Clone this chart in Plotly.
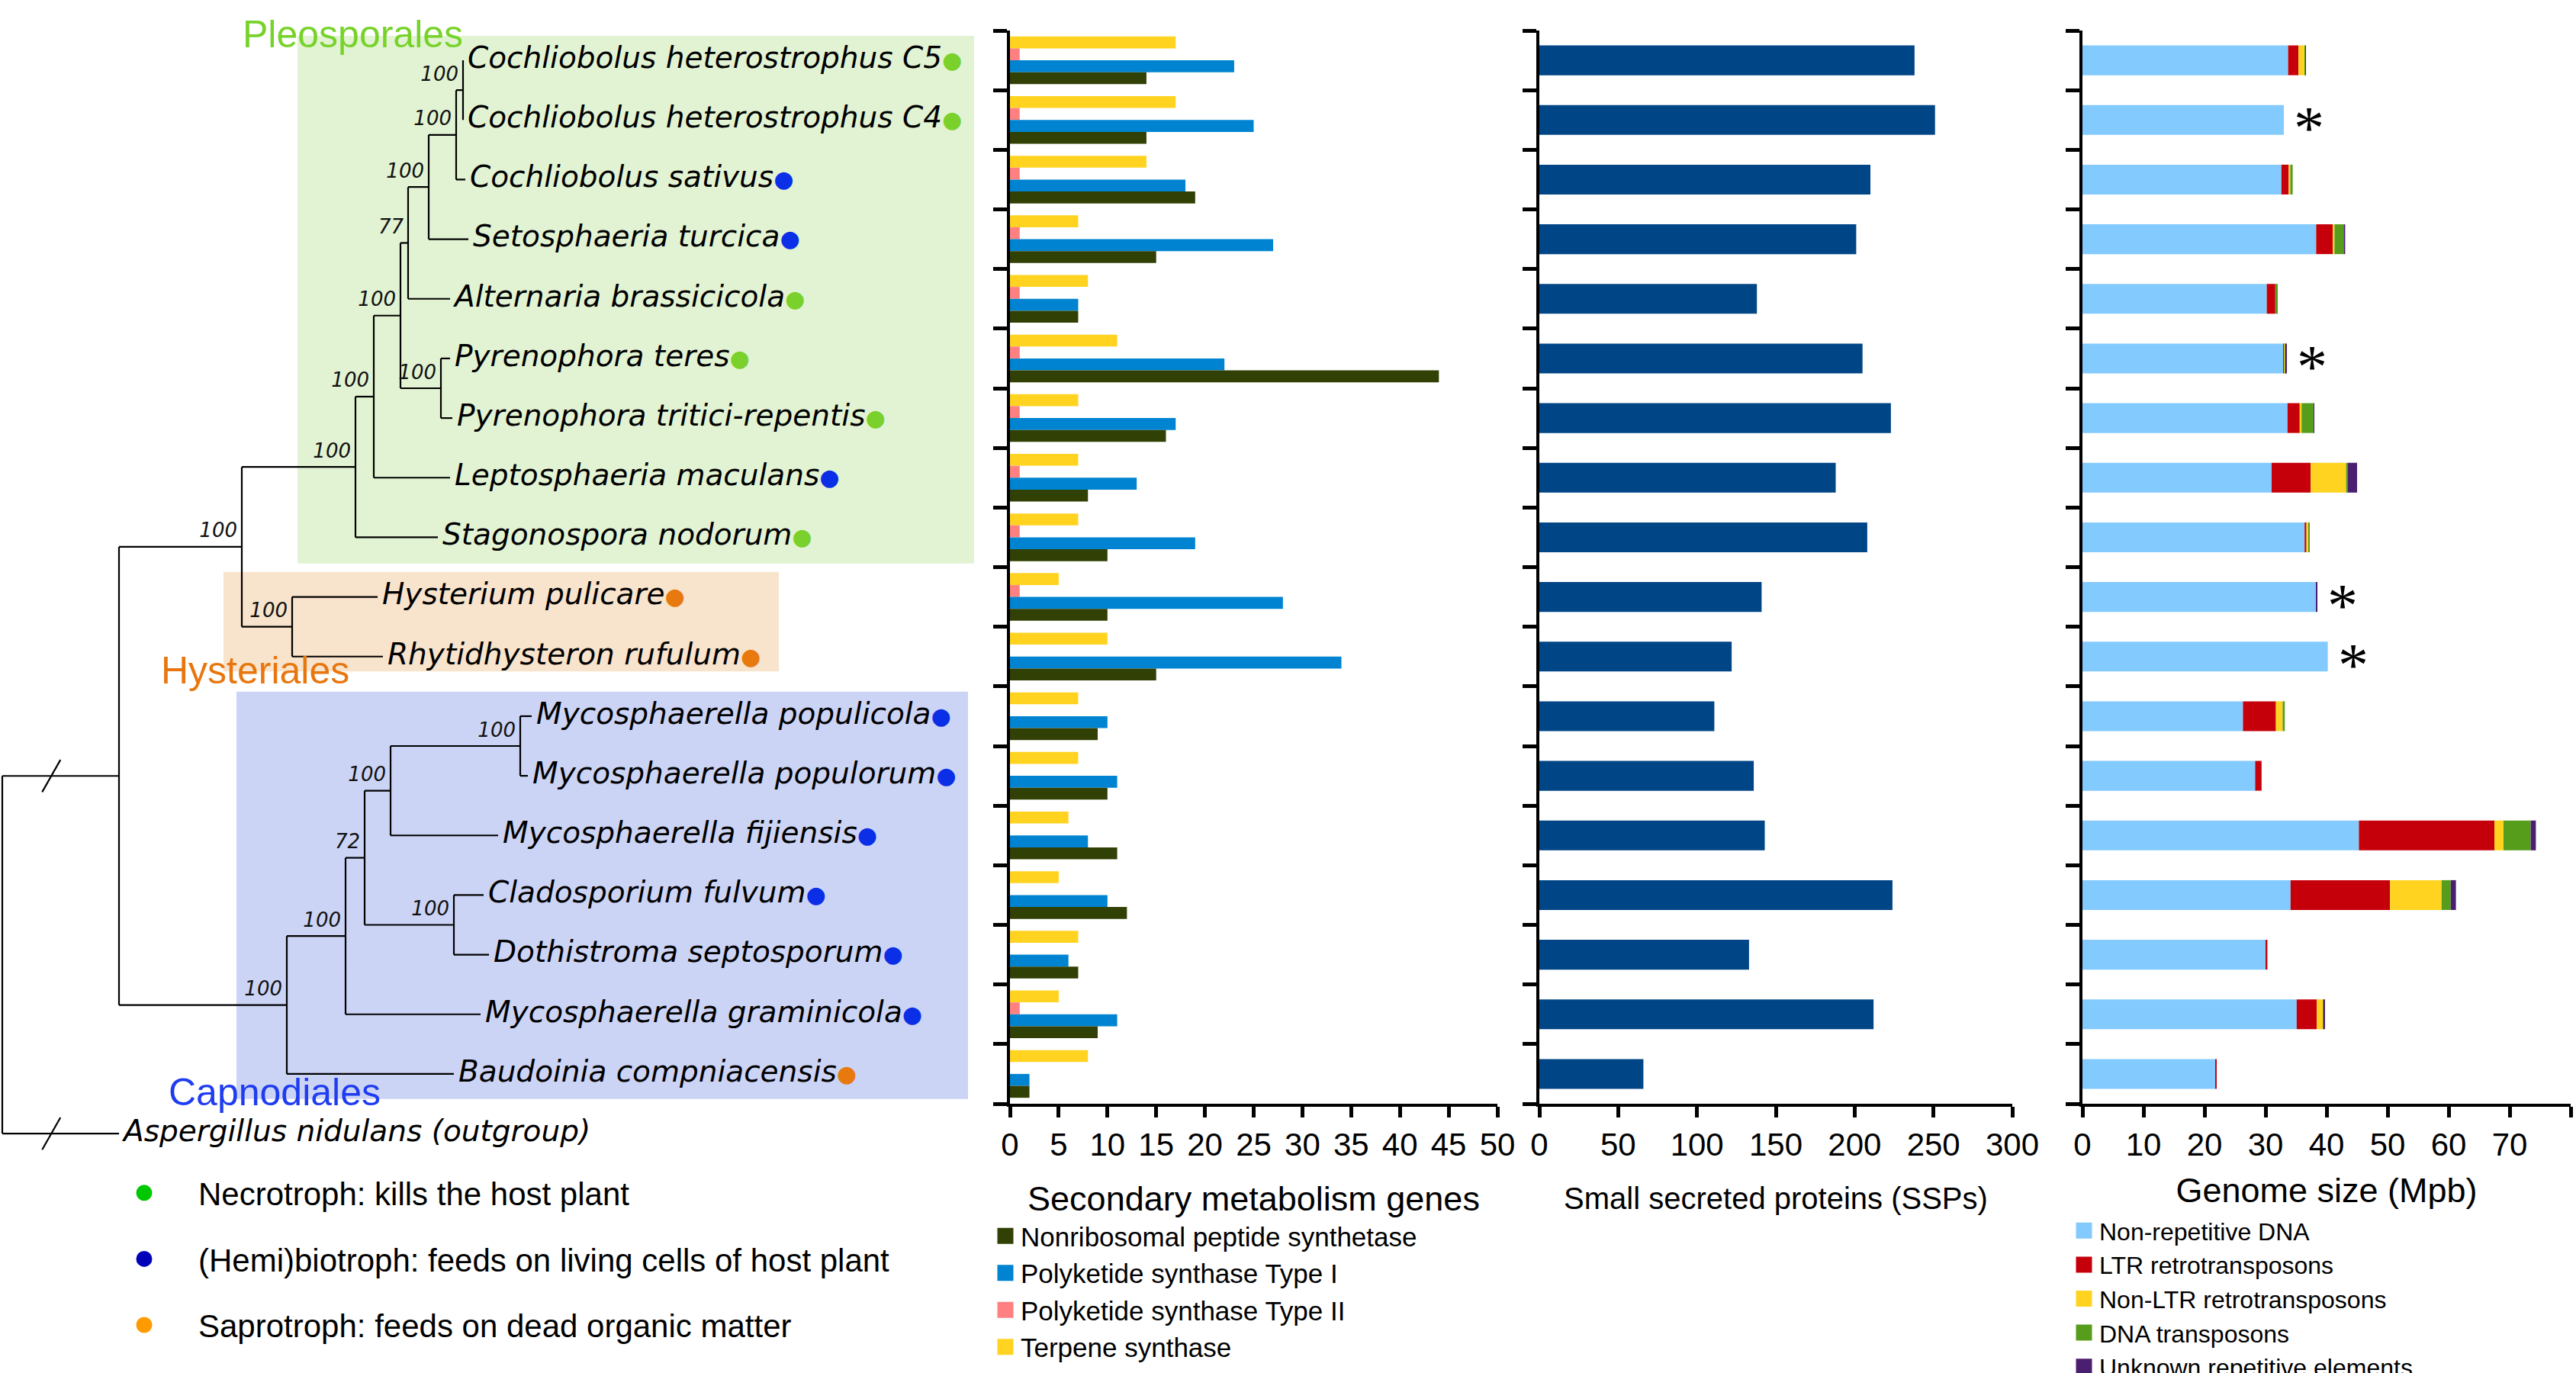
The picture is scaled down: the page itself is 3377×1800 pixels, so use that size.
import plotly.graph_objects as go

# ---------------- data ----------------
species = [
    "Cochliobolus heterostrophus C5", "Cochliobolus heterostrophus C4",
    "Cochliobolus sativus", "Setosphaeria turcica", "Alternaria brassicicola",
    "Pyrenophora teres", "Pyrenophora tritici-repentis", "Leptosphaeria maculans",
    "Stagonospora nodorum", "Hysterium pulicare", "Rhytidhysteron rufulum",
    "Mycosphaerella populicola", "Mycosphaerella populorum", "Mycosphaerella fijiensis",
    "Cladosporium fulvum", "Dothistroma septosporum", "Mycosphaerella graminicola",
    "Baudoinia compniacensis",
]
outgroup = "Aspergillus nidulans (outgroup)"
lifestyle = ["necro", "necro", "hemi", "hemi", "necro", "necro", "necro", "hemi", "necro",
             "sapro", "sapro", "hemi", "hemi", "hemi", "hemi", "hemi", "hemi", "sapro"]
lifestyle_names = {
    "necro": "Necrotroph: kills the host plant",
    "hemi": "(Hemi)biotroph: feeds on living cells of host plant",
    "sapro": "Saprotroph: feeds on dead organic matter",
}

# secondary metabolism genes
nrps = [14, 14, 19, 15, 7, 44, 16, 8, 10, 10, 15, 9, 10, 11, 12, 7, 9, 2]
pks1 = [23, 25, 18, 27, 7, 22, 17, 13, 19, 28, 34, 10, 11, 8, 10, 6, 11, 2]
pks2 = [1, 1, 1, 1, 1, 1, 1, 1, 1, 1, 0, 0, 0, 0, 0, 0, 1, 0]
terpene = [17, 17, 14, 7, 8, 11, 7, 7, 7, 5, 10, 7, 7, 6, 5, 7, 5, 8]

# small secreted proteins
ssp = [238, 251, 210, 201, 138, 205, 223, 188, 208, 141, 122, 111, 136, 143, 224, 133, 212, 66]

# genome size components (Mpb)
non_rep = [33.7, 33.0, 32.6, 38.3, 30.2, 32.9, 33.6, 31.0, 36.4, 38.3, 40.2, 26.3, 28.3, 45.3, 34.1, 30.0, 35.1, 21.8]
ltr = [1.7, 0, 1.2, 2.7, 1.4, 0.2, 2.0, 6.4, 0.3, 0, 0, 5.4, 1.05, 22.2, 16.3, 0.3, 3.3, 0.15]
non_ltr = [1.0, 0, 0.25, 0.3, 0, 0.05, 0.3, 5.8, 0.3, 0, 0, 1.1, 0, 1.5, 8.45, 0, 1.05, 0]
dna_tp = [0.1, 0, 0.4, 1.5, 0.4, 0.2, 2.0, 0.3, 0.2, 0, 0, 0.35, 0, 4.45, 1.5, 0, 0.1, 0]
unknown = [0.05, 0, 0, 0.25, 0, 0.1, 0.1, 1.5, 0, 0.2, 0, 0, 0, 0.85, 0.85, 0, 0.2, 0]
asterisk = [0, 1, 0, 0, 0, 1, 0, 0, 0, 1, 1, 0, 0, 0, 0, 0, 0, 0]

# phylogeny: leaf tip depths and clades (name, depth, children, support)
leaf_depth = [607, 607, 610, 614, 590, 590, 593, 590, 574, 495, 502, 697, 692, 653, 634, 641, 630, 595]
outgroup_depth = 156
clades = [
    ("A", 607, [0, 1], 100),
    ("B", 598, ["A", 2], 100),
    ("C", 562, ["B", 3], 100),
    ("D", 535, ["C", 4], 77),
    ("E", 578, [5, 6], 100),
    ("F", 525, ["D", "E"], 100),
    ("G", 490, ["F", 7], 100),
    ("H", 466, ["G", 8], 100),
    ("K", 383, [9, 10], 100),
    ("I", 317, ["H", "K"], 100),
    ("L", 682, [11, 12], 100),
    ("M", 512, ["L", 13], 100),
    ("N", 595, [14, 15], 100),
    ("O", 478, ["M", "N"], 72),
    ("P", 453, ["O", 16], 100),
    ("Q", 376, ["P", 17], 100),
    ("J", 156, ["I", "Q"], None),
    ("root", 3, ["J", "out"], None),
]

# ---------------- styles ----------------
SANS = "Liberation Sans, Arial, sans-serif"
TREE = "DejaVu Sans, sans-serif"
W, H = 3377, 1800
tree_dot = {"necro": "#7AD12B", "hemi": "#0B2FE6", "sapro": "#E8790F"}
legend_dot = {"necro": "#00C800", "hemi": "#0000B8", "sapro": "#FF9A00"}
sm_colors = {"nrps": "#314004", "pks1": "#0084D1", "pks2": "#FF8080", "terp": "#FFD320"}
gen_colors = ["#83CAFF", "#C5000B", "#FFD320", "#579D1C", "#4B1F6F"]

rows = list(range(len(species)))
fig = go.Figure()

# ---------------- tree ----------------
ypos = {i: float(i) for i in rows}
xpos = {i: leaf_depth[i] for i in rows}
ypos["out"] = float(len(species))
xpos["out"] = outgroup_depth
tx, ty = [], []
sx, sy, st = [], [], []
for name, depth, children, support in clades:
    ys = [ypos[c] for c in children]
    ypos[name] = (min(ys) + max(ys)) / 2
    xpos[name] = depth
    tx += [depth, depth, None]
    ty += [min(ys), max(ys), None]
    for c in children:
        tx += [depth, xpos[c], None]
        ty += [ypos[c], ypos[c], None]
    if support is not None:
        sx.append(depth)
        sy.append(ypos[name])
        st.append(f"<i>{support}</i>")

fig.add_trace(go.Scatter(x=tx, y=ty, mode="lines", line=dict(color="black", width=2.2),
                         xaxis="x", yaxis="y", showlegend=False, hoverinfo="skip"))

labels = [f"<i>{n}</i><span style='color:{tree_dot[l]};font-size:30px'>●</span>"
          for n, l in zip(species, lifestyle)]
fig.add_trace(go.Scatter(
    x=leaf_depth + [outgroup_depth], y=rows + [len(species)],
    text=labels + [f"<i>{outgroup}</i>"], mode="markers+text", textposition="middle right",
    marker=dict(size=8, opacity=0), textfont=dict(family=TREE, size=39, color="black"),
    cliponaxis=False, xaxis="x", yaxis="y", showlegend=False, hoverinfo="skip"))

fig.add_trace(go.Scatter(
    x=sx, y=sy, text=st, mode="markers+text", textposition="top left",
    marker=dict(size=8, opacity=0), textfont=dict(family=TREE, size=26, color="#111111"),
    cliponaxis=False, xaxis="x", yaxis="y", showlegend=False, hoverinfo="skip"))

shapes = []
# clade boxes
for x0, x1, y0, y1, col in [(390, 1277, -0.41, 8.44, "#E2F3D3"),
                            (293, 1021, 8.58, 10.25, "#F8E3CC"),
                            (310, 1269, 10.59, 17.42, "#CCD4F6")]:
    shapes.append(dict(type="rect", xref="x", yref="y", x0=x0, x1=x1, y0=y0, y1=y1,
                       fillcolor=col, line=dict(width=0), layer="below"))
# break marks on the root branches
root_depth = xpos["root"]
for c in ["J", "out"]:
    cx = root_depth + 0.42 * (xpos[c] - root_depth)
    shapes.append(dict(type="line", xref="x", yref="y", x0=cx + 12, x1=cx - 12,
                       y0=ypos[c] - 0.27, y1=ypos[c] + 0.27, line=dict(color="black", width=2.2)))

# ---------------- secondary metabolism ----------------
for vals, key, nm in [(terpene, "terp", "Terpene synthase"),
                      (pks2, "pks2", "Polyketide synthase Type II"),
                      (pks1, "pks1", "Polyketide synthase Type I"),
                      (nrps, "nrps", "Nonribosomal peptide synthetase")]:
    fig.add_trace(go.Bar(x=vals, y=rows, orientation="h", name=nm, xaxis="x2", yaxis="y2",
                         marker=dict(color=sm_colors[key], line=dict(width=0)),
                         showlegend=False, hoverinfo="x+name"))

# ---------------- SSPs ----------------
fig.add_trace(go.Bar(x=ssp, y=rows, orientation="h", xaxis="x3", yaxis="y3", width=0.5,
                     offset=-0.25, marker=dict(color="#004586", line=dict(width=0)),
                     showlegend=False, name="SSPs"))

# ---------------- genome size (stacked via base) ----------------
comps = [("Non-repetitive DNA", non_rep), ("LTR retrotransposons", ltr),
         ("Non-LTR retrotransposons", non_ltr), ("DNA transposons", dna_tp),
         ("Unknown repetitive elements", unknown)]
cum = [0.0] * len(species)
for (nm, vals), col in zip(comps, gen_colors):
    fig.add_trace(go.Bar(x=vals, base=list(cum), y=rows, orientation="h", xaxis="x4", yaxis="y4",
                         width=0.5, offset=-0.25, offsetgroup="genome",
                         marker=dict(color=col, line=dict(width=0)), showlegend=False, name=nm))
    cum = [a + b for a, b in zip(cum, vals)]

annotations = []
for i, flag in enumerate(asterisk):
    if flag:
        annotations.append(dict(x=cum[i], y=i, xref="x4", yref="y4", text="*", showarrow=False,
                                xanchor="left", xshift=11, yshift=-11,
                                font=dict(family="Liberation Serif, Times New Roman, serif",
                                          size=80, color="black")))

# ---------------- legends (proxy entries) ----------------
for nm, key in [("Nonribosomal peptide synthetase", "nrps"), ("Polyketide synthase Type I", "pks1"),
                ("Polyketide synthase Type II", "pks2"), ("Terpene synthase", "terp")]:
    fig.add_trace(go.Scatter(x=[None], y=[None], mode="markers", name=nm, legend="legend",
                             xaxis="x2", yaxis="y2",
                             marker=dict(symbol="square", size=16, color=sm_colors[key],
                                         line=dict(width=5, color=sm_colors[key]))))
for key in ["necro", "hemi", "sapro"]:
    fig.add_trace(go.Scatter(x=[None], y=[None], mode="markers", name=lifestyle_names[key],
                             legend="legend2", legendgroup=key, xaxis="x", yaxis="y",
                             marker=dict(symbol="circle", size=16, color=legend_dot[key],
                                         line=dict(width=5, color=legend_dot[key]))))
for (nm, _), col in zip(comps, gen_colors):
    fig.add_trace(go.Scatter(x=[None], y=[None], mode="markers", name=nm, legend="legend3",
                             xaxis="x4", yaxis="y4",
                             marker=dict(symbol="square", size=16, color=col,
                                         line=dict(width=5, color=col))))

# clade names
for txt, cx, cy, col in [("Pleosporales", 462, 45, "#77D22A"),
                         ("Hysteriales", 334, 879, "#E8760F"),
                         ("Capnodiales", 360, 1432, "#1E3CF0")]:
    annotations.append(dict(x=cx / W, y=1 - cy / H, xref="paper", yref="paper", text=txt,
                            showarrow=False, xanchor="center", yanchor="middle",
                            font=dict(family=SANS, size=50, color=col)))

# ---------------- axes ----------------
top = 40
bottom = 1447
row_h = (bottom - top) / 18
ydom = [1 - bottom / H, 1 - top / H]
tree_ydom = [1 - (bottom + row_h) / H, 1 - top / H]
boundaries = [k - 0.5 for k in range(len(species) + 1)]


def xax(d0, d1, rng, dt, title, tsize, standoff):
    return dict(domain=[d0 / W, d1 / W], range=rng, dtick=dt, tick0=0, showgrid=False,
                zeroline=False, showline=True, linewidth=4, linecolor="black",
                ticks="outside", ticklen=14, tickwidth=5, tickcolor="black",
                tickfont=dict(family=SANS, size=42, color="black"),
                title=dict(text=title, font=dict(family=SANS, size=tsize, color="black"),
                           standoff=standoff))


def yax(anchor):
    return dict(domain=ydom, range=[17.5, -0.5], tickvals=boundaries, showticklabels=False,
                ticks="outside", ticklen=18, tickwidth=5, tickcolor="black", showgrid=False,
                zeroline=False, showline=True, linewidth=4, linecolor="black", anchor=anchor)


fig.update_layout(
    width=W, height=H, margin=dict(l=0, r=0, t=0, b=0, autoexpand=False),
    paper_bgcolor="white", plot_bgcolor="white",
    barmode="group", bargap=0.2, bargroupgap=0,
    xaxis=dict(domain=[0, 1300 / W], range=[0, 1300], visible=False, anchor="y"),
    yaxis=dict(domain=tree_ydom, range=[len(species) + 0.5, -0.5], visible=False, anchor="x"),
    xaxis2=dict(xax(1324, 1963, [0, 50], 5, "Secondary metabolism genes", 45, 33), anchor="y2"),
    yaxis2=yax("x2"),
    xaxis3=dict(xax(2018, 2638, [0, 300], 50, "Small secreted proteins (SSPs)", 40, 35), anchor="y3"),
    yaxis3=yax("x3"),
    xaxis4=dict(xax(2730, 3370, [0, 80], 10, "Genome size (Mpb)", 45, 22), anchor="y4"),
    yaxis4=yax("x4"),
    shapes=shapes,
    annotations=annotations,
    legend=dict(x=1298 / W, y=1 - 1591 / H, xanchor="left", yanchor="top",
                font=dict(family=SANS, size=35, color="black"), bgcolor="rgba(0,0,0,0)",
                itemwidth=30),
    legend2=dict(x=118 / W, y=1 - 1530 / H, xanchor="left", yanchor="top",
                 font=dict(family=SANS, size=42, color="black"), bgcolor="rgba(0,0,0,0)",
                 itemwidth=132, tracegroupgap=29),
    legend3=dict(x=2712 / W, y=1 - 1586 / H, xanchor="left", yanchor="top",
                 font=dict(family=SANS, size=32, color="black"), bgcolor="rgba(0,0,0,0)",
                 itemwidth=30),
)

fig.write_html("out.html")
